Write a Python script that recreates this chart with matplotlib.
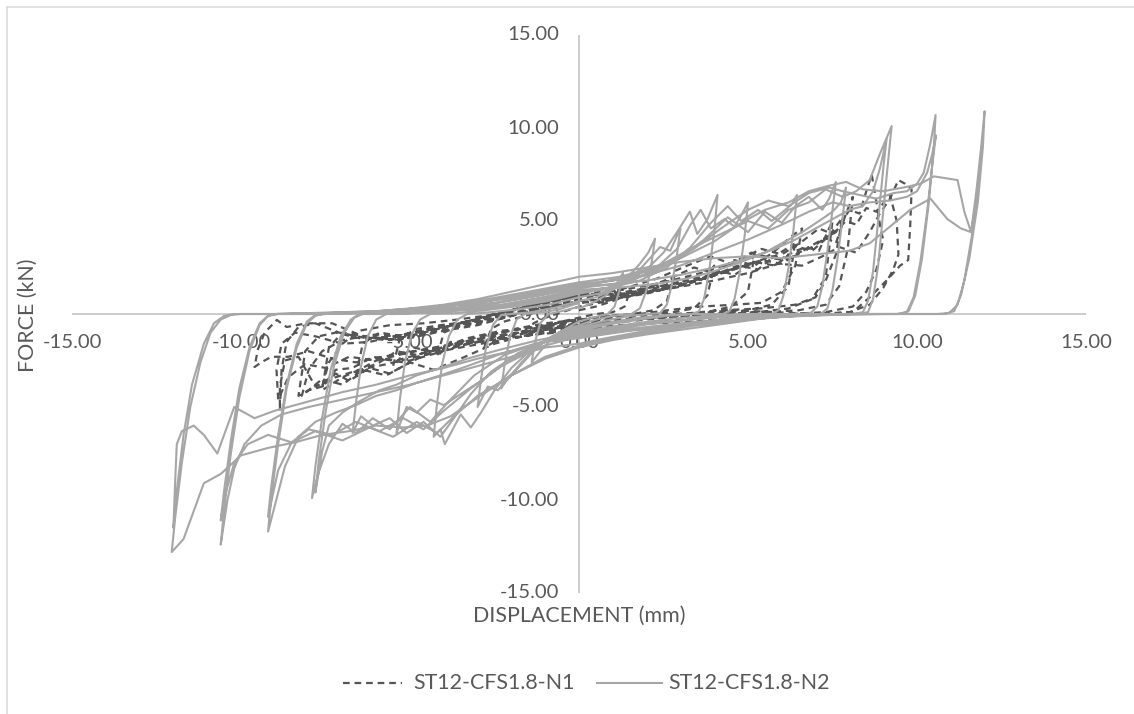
import matplotlib
matplotlib.use('Agg')
import matplotlib.pyplot as plt
from matplotlib.lines import Line2D
from matplotlib.transforms import ScaledTranslation

# ST12-CFS1.8-N1 hysteresis loops: (displacement mm, force kN)
n1_loop_01 = [(0.0, 0.2), (0.5, 0.4), (1.0, 0.7), (1.3, 0.9), (1.5, 1.2), (1.35, 0.4), (1.0, 0.1), (0.5, 0.0),
              (0.0, -0.2), (-0.5, -0.4), (-1.0, -0.7), (-1.3, -0.9), (-1.5, -1.2), (-1.35, -0.5), (-1.0, -0.2),
              (-0.5, 0.1), (0.0, 0.4)]
n1_loop_02 = [(0.0, 0.4), (0.6, 0.6), (1.2, 0.9), (1.8, 1.2), (2.2, 1.6), (2.5, 1.4), (2.8, 2.0), (2.6, 0.7),
              (2.2, 0.2), (1.6, 0.0), (0.9, -0.1), (0.0, -0.3), (-0.7, -0.5), (-1.4, -0.8), (-2.0, -1.1),
              (-2.4, -1.4), (-2.8, -1.8), (-2.6, -0.8), (-2.2, -0.4), (-1.6, -0.1), (-0.9, 0.3), (0.0, 0.6)]
n1_loop_03 = [(0.0, 0.6), (0.8, 0.7), (1.6, 1.0), (2.3, 1.3), (2.9, 1.7), (3.3, 2.0), (3.7, 1.8), (4.0, 2.6),
              (3.8, 1.0), (3.4, 0.3), (2.8, 0.1), (2.0, 0.0), (1.0, -0.1), (0.0, -0.3), (-1.0, -0.5), (-1.9, -0.8),
              (-2.7, -1.2), (-3.3, -1.6), (-3.8, -1.5), (-4.2, -2.3), (-4.0, -1.0), (-3.5, -0.6), (-2.9, -0.4),
              (-2.1, -0.1), (-1.1, 0.3), (0.0, 0.7)]
n1_loop_04 = [(0.0, 0.7), (1.0, 0.8), (2.0, 1.1), (2.9, 1.5), (3.6, 1.9), (4.2, 2.3), (4.6, 2.1), (5.0, 2.6),
              (5.2, 3.2), (5.0, 1.2), (4.5, 0.4), (3.8, 0.1), (2.9, 0.0), (1.9, -0.1), (0.9, -0.2), (0.0, -0.4),
              (-1.0, -0.6), (-2.0, -0.9), (-2.9, -1.2), (-3.7, -1.6), (-4.4, -2.0), (-4.9, -1.8), (-5.2, -2.2),
              (-5.5, -2.8), (-5.3, -1.3), (-4.8, -0.8), (-4.1, -0.6), (-3.2, -0.4), (-2.2, -0.1), (-1.1, 0.3),
              (0.0, 0.8)]
n1_loop_05 = [(0.0, 0.8), (1.1, 0.9), (2.2, 1.2), (3.2, 1.6), (4.0, 2.1), (4.7, 2.6), (5.3, 2.4), (5.7, 3.0),
              (6.1, 2.9), (6.4, 3.9), (6.2, 1.5), (5.7, 0.5), (5.0, 0.2), (4.0, 0.0), (3.0, -0.1), (2.0, -0.2),
              (1.0, -0.3), (0.0, -0.5), (-1.1, -0.8), (-2.2, -1.1), (-3.2, -1.4), (-4.1, -1.8), (-4.8, -2.2),
              (-5.4, -2.0), (-5.9, -2.6), (-6.3, -2.9), (-6.6, -3.4), (-6.4, -1.6), (-5.9, -1.0), (-5.2, -1.2),
              (-4.3, -0.8), (-3.3, -0.5), (-2.2, -0.1), (-1.1, 0.4), (0.0, 0.9)]
n1_loop_06 = [(0.0, 0.9), (1.2, 1.0), (2.4, 1.3), (3.5, 1.8), (4.4, 2.3), (5.2, 2.8), (5.8, 2.6), (6.3, 3.3),
              (6.7, 3.6), (7.1, 3.4), (7.5, 5.0), (7.3, 2.0), (6.9, 0.8), (6.2, 0.3), (5.3, 0.1), (4.2, 0.0),
              (3.0, -0.1), (1.8, -0.3), (0.6, -0.5), (0.0, -0.6), (-1.2, -0.9), (-2.4, -1.3), (-3.5, -1.7),
              (-4.4, -2.2), (-5.2, -2.6), (-5.9, -2.4), (-6.5, -3.0), (-7.0, -3.4), (-7.6, -4.1), (-7.4, -1.8),
              (-7.0, -1.0), (-6.3, -1.2), (-5.4, -1.4), (-4.4, -0.9), (-3.3, -0.4), (-2.2, 0.1), (-1.1, 0.6),
              (0.0, 1.0)]
n1_loop_07 = [(0.0, 1.0), (1.3, 1.1), (2.6, 1.5), (3.7, 1.9), (4.6, 2.4), (5.4, 2.9), (6.0, 2.7), (6.5, 3.3),
              (6.9, 3.6), (7.3, 4.1), (7.6, 3.8), (7.9, 5.4), (8.1, 6.3), (7.95, 3.5), (7.7, 1.5), (7.3, 0.5),
              (6.5, 0.2), (5.5, 0.1), (4.4, 0.0), (3.2, -0.1), (2.0, -0.3), (0.8, -0.5), (0.0, -0.6), (-1.3, -0.9),
              (-2.5, -1.3), (-3.6, -1.7), (-4.6, -2.1), (-5.4, -2.5), (-6.1, -2.3), (-6.7, -2.9), (-7.2, -3.0),
              (-7.6, -3.9), (-8.0, -4.1), (-8.3, -4.4), (-8.1, -2.0), (-7.7, -1.2), (-7.2, -1.0), (-6.5, -1.3),
              (-5.6, -1.4), (-4.6, -1.0), (-3.5, -0.5), (-2.3, 0.1), (-1.1, 0.6), (0.0, 1.0)]
n1_loop_08 = [(0.0, 1.0), (1.4, 1.2), (2.7, 1.6), (3.9, 2.1), (4.9, 2.6), (5.7, 3.1), (6.3, 3.0), (6.8, 3.6),
              (7.2, 4.0), (7.6, 4.4), (8.0, 5.6), (8.3, 5.4), (8.5, 6.6), (8.66, 7.5), (8.8, 6.0), (8.93, 4.5),
              (9.0, 4.0), (8.8, 2.4), (8.5, 1.2), (8.1, 0.4), (7.3, 0.1), (6.2, 0.0), (5.0, -0.1), (3.8, -0.2),
              (2.5, -0.4), (1.2, -0.6), (0.0, -0.8), (-1.3, -1.1), (-2.6, -1.5), (-3.8, -1.9), (-4.8, -2.3),
              (-5.7, -2.7), (-6.5, -3.0), (-7.2, -3.4), (-7.8, -3.9), (-8.3, -2.3), (-8.7, -2.5), (-8.85, -3.9),
              (-8.85, -5.2), (-8.8, -3.0), (-8.65, -1.5), (-8.3, -0.7), (-7.8, -0.5), (-7.1, -1.0), (-6.3, -1.3),
              (-5.4, -1.2), (-4.4, -0.8), (-3.3, -0.4), (-2.2, 0.1), (-1.1, 0.6), (0.0, 1.0)]
n1_loop_09 = [(0.0, 1.0), (1.4, 1.1), (2.8, 1.4), (4.0, 1.8), (5.0, 2.2), (5.9, 2.7), (6.6, 2.6), (7.2, 3.1),
              (7.7, 3.6), (8.2, 3.3), (8.6, 4.4), (8.9, 5.4), (9.2, 6.2), (9.45, 7.2), (9.65, 7.0), (9.84, 6.7),
              (9.8, 4.8), (9.74, 2.9), (9.5, 2.6), (9.1, 1.8), (8.6, 0.9), (8.1, 0.1), (7.2, 0.0), (6.0, -0.1),
              (4.8, -0.2), (3.5, -0.4), (2.2, -0.5), (1.0, -0.7), (0.0, -0.9), (-1.3, -1.1), (-2.6, -1.4),
              (-3.8, -1.7), (-4.9, -2.0), (-5.8, -2.3), (-6.6, -2.6), (-7.3, -2.4), (-8.0, -2.0), (-8.6, -2.3),
              (-9.1, -2.3), (-9.4, -2.6), (-9.6, -2.85), (-9.5, -1.9), (-9.3, -1.0), (-8.94, -0.32), (-8.65, -0.7),
              (-8.06, -0.5), (-7.3, -0.5), (-6.4, -1.2), (-5.4, -1.4), (-4.4, -1.0), (-3.3, -0.6), (-2.2, -0.2),
              (-1.1, 0.3), (0.0, 0.6)]
n1_loop_10 = [(0.0, 0.6), (1.0, 0.9), (2.0, 1.4), (2.8, 2.0), (3.4, 2.5), (4.0, 2.2), (4.6, 2.9), (5.2, 2.6),
              (5.8, 3.4), (6.3, 4.2), (6.6, 4.6), (6.4, 2.6), (6.0, 1.2), (5.4, 0.6), (4.6, 0.5), (3.6, 0.4),
              (2.6, 0.2), (1.4, -0.1), (0.0, -0.5), (-1.2, -0.7), (-2.3, -0.9), (-3.3, -1.3), (-4.2, -1.9),
              (-5.0, -2.6), (-5.6, -3.2), (-6.2, -2.9), (-6.8, -3.6), (-7.2, -3.2), (-7.6, -3.9), (-7.4, -2.6),
              (-7.0, -1.6), (-6.5, -0.9), (-5.6, -0.6), (-4.6, -0.5), (-3.6, -0.3), (-2.4, 0.0), (-1.2, 0.5),
              (0.0, 0.9)]
n1_loop_11 = [(0.0, 0.9), (1.2, 1.3), (2.3, 1.9), (3.2, 2.6), (3.9, 3.1), (4.5, 2.7), (5.1, 3.3), (5.7, 3.0),
              (6.3, 3.7), (6.9, 3.4), (7.4, 4.2), (7.8, 5.2), (7.6, 3.2), (7.3, 1.8), (7.0, 0.9), (6.4, 0.5),
              (5.4, 0.3), (4.2, 0.2), (3.0, 0.0), (1.6, -0.3), (0.0, -0.7), (-1.3, -1.0), (-2.5, -1.6),
              (-3.5, -2.4), (-4.3, -3.0), (-5.0, -2.6), (-5.7, -3.3), (-6.4, -3.0), (-7.0, -3.8), (-7.6, -3.5),
              (-8.2, -4.4), (-8.0, -3.0), (-7.6, -2.0), (-7.0, -1.4), (-6.0, -1.1), (-5.0, -1.3), (-4.0, -0.9),
              (-3.0, -0.6), (-2.0, -0.1), (-1.0, 0.5), (0.0, 1.1)]
n1_loop_12 = [(0.0, 1.1), (1.3, 1.3), (2.5, 1.7), (3.6, 2.2), (4.6, 2.8), (5.4, 3.5), (6.0, 3.2), (6.6, 3.9),
              (7.1, 4.6), (7.5, 4.3), (7.9, 5.0), (8.2, 4.8), (8.5, 5.7), (8.8, 5.5), (9.2, 6.4), (9.4, 5.0),
              (9.45, 3.2), (9.3, 2.4), (9.0, 1.4), (8.6, 0.5), (8.0, 0.1), (7.0, 0.0), (5.8, 0.1), (4.6, 0.2),
              (3.2, 0.0), (1.6, -0.3), (0.0, -0.6), (-1.4, -0.9), (-2.8, -1.3), (-4.0, -1.7), (-5.1, -2.1),
              (-6.0, -2.5), (-6.8, -2.3), (-7.5, -2.9), (-8.1, -2.7), (-8.6, -3.4), (-8.9, -4.6), (-8.95, -3.0),
              (-8.8, -1.6), (-8.4, -1.0), (-7.8, -1.2), (-7.0, -1.6), (-6.2, -1.5), (-5.2, -1.1), (-4.2, -0.7),
              (-3.0, -0.3), (-1.6, 0.2), (0.0, 0.7)]

# ST12-CFS1.8-N2 hysteresis loops
n2_loop_01 = [(0.0, 0.3), (0.4, 0.6), (0.8, 1.0), (1.1, 1.6), (1.3, 2.2), (1.2, 1.3), (1.05, 0.4), (0.85, 0.0),
              (0.4, -0.2), (0.0, -0.4), (-0.4, -0.8), (-0.8, -1.3), (-1.1, -1.9), (-1.4, -2.6), (-1.3, -1.5),
              (-1.15, -0.5), (-0.9, 0.0), (-0.4, 0.2), (0.0, 0.4)]
n2_loop_02 = [(0.0, 0.7), (0.5, 0.9), (1.0, 1.3), (1.4, 1.9), (1.8, 2.7), (2.05, 3.3), (2.25, 4.05), (2.15, 2.8),
              (2.0, 1.3), (1.8, 0.3), (1.55, 0.0), (1.0, -0.1), (0.5, -0.3), (0.0, -0.6), (-0.5, -0.9), (-1.0, -1.4),
              (-1.4, -2.1), (-1.8, -2.9), (-2.1, -3.4), (-2.3, -4.0), (-2.2, -2.7), (-2.05, -1.3), (-1.85, -0.3),
              (-1.6, 0.0), (-1.0, 0.1), (-0.5, 0.3), (0.0, 0.6)]
n2_loop_03 = [(0.0, 0.9), (0.6, 1.1), (1.2, 1.5), (1.7, 2.2), (2.1, 3.0), (2.4, 3.6), (2.7, 3.4), (3.0, 4.6),
              (2.9, 3.2), (2.75, 1.6), (2.6, 0.5), (2.4, 0.05), (2.1, 0.0), (1.5, -0.1), (0.8, -0.35), (0.0, -0.7),
              (-0.6, -1.1), (-1.2, -1.7), (-1.7, -2.6), (-2.1, -3.5), (-2.4, -4.1), (-2.7, -3.9), (-3.0, -5.0),
              (-2.9, -3.5), (-2.75, -1.8), (-2.55, -0.6), (-2.3, -0.05), (-2.0, 0.0), (-1.4, 0.1), (-0.7, 0.35),
              (0.0, 0.7)]
n2_loop_04 = [(0.0, 1.1), (0.7, 1.3), (1.4, 1.7), (2.0, 2.4), (2.5, 3.3), (2.9, 4.4), (3.28, 5.5), (3.5, 4.3),
              (3.8, 5.1), (4.1, 6.4), (4.0, 4.4), (3.85, 2.3), (3.7, 0.8), (3.55, 0.15), (3.35, 0.0), (2.6, -0.05),
              (1.8, -0.2), (0.9, -0.45), (0.0, -0.8), (-0.7, -1.2), (-1.4, -1.9), (-2.0, -2.9), (-2.5, -4.1),
              (-2.9, -5.3), (-3.2, -6.1), (-3.5, -5.4), (-3.97, -7.0), (-4.1, -6.2), (-4.3, -6.6), (-4.2, -4.8),
              (-4.05, -2.7), (-3.85, -1.2), (-3.6, -0.3), (-3.3, 0.0), (-2.6, 0.1), (-1.8, 0.25), (-0.9, 0.5),
              (0.0, 0.9)]
n2_loop_05 = [(0.0, 1.2), (0.8, 1.4), (1.6, 1.8), (2.3, 2.5), (2.9, 3.5), (3.3, 4.8), (3.6, 5.6), (3.9, 4.6),
              (4.3, 5.1), (4.6, 4.7), (4.8, 5.3), (5.0, 6.0), (4.9, 4.2), (4.75, 2.2), (4.6, 0.8), (4.45, 0.15),
              (4.25, 0.0), (3.4, 0.0), (2.6, -0.1), (1.8, -0.3), (0.9, -0.55), (0.0, -0.9), (-0.8, -1.3),
              (-1.6, -2.0), (-2.3, -2.8), (-2.9, -3.6), (-3.5, -4.3), (-4.0, -4.9), (-4.4, -4.6), (-4.8, -5.3),
              (-5.1, -5.0), (-5.4, -6.4), (-5.3, -4.6), (-5.15, -2.6), (-4.95, -1.1), (-4.7, -0.3),
              (-4.4, 0.0), (-3.6, 0.05), (-2.8, 0.2), (-1.9, 0.4), (-0.9, 0.7), (0.0, 1.1)]
n2_loop_06 = [(0.0, 1.2), (0.9, 1.4), (1.8, 1.8), (2.6, 2.5), (3.3, 3.6), (3.9, 4.9), (4.4, 5.8), (4.8, 5.0),
              (5.3, 5.6), (5.7, 5.0), (6.1, 5.6), (6.3, 5.9), (6.45, 6.4), (6.35, 4.6), (6.2, 2.5), (6.05, 1.0),
              (5.9, 0.2), (5.7, 0.0), (4.8, 0.0), (3.8, -0.1), (2.8, -0.25), (1.9, -0.45), (0.9, -0.7), (0.0, -1.0),
              (-0.9, -1.4), (-1.8, -2.1), (-2.6, -3.1), (-3.2, -4.3), (-3.7, -5.6), (-4.1, -6.6), (-4.6, -5.8),
              (-5.1, -6.4), (-5.6, -5.6), (-6.1, -6.0), (-6.45, -5.5), (-6.7, -6.4), (-6.6, -4.8), (-6.45, -2.8),
              (-6.25, -1.2), (-6.0, -0.3), (-5.7, 0.0), (-4.8, 0.05), (-3.8, 0.15), (-2.8, 0.3), (-1.9, 0.5),
              (-0.9, 0.8), (0.0, 1.2)]
n2_loop_07 = [(0.0, 1.4), (1.0, 1.6), (2.0, 2.1), (2.9, 2.9), (3.7, 4.0), (4.4, 5.2), (5.0, 4.4), (5.5, 5.5),
              (6.0, 4.9), (6.4, 5.8), (6.8, 6.3), (7.2, 5.6), (7.4, 6.2), (7.6, 7.1), (7.5, 5.6), (7.35, 3.4),
              (7.2, 1.5), (7.05, 0.4), (6.85, 0.05), (6.6, 0.0), (5.5, 0.0), (4.4, -0.1), (3.3, -0.3), (2.2, -0.5),
              (1.1, -0.8), (0.0, -1.1), (-1.1, -1.5), (-2.2, -2.2), (-3.1, -3.3), (-3.8, -4.6), (-4.4, -5.8),
              (-5.0, -5.0), (-5.6, -6.2), (-6.1, -5.6), (-6.6, -6.4), (-7.0, -5.9), (-7.4, -7.0), (-7.7, -8.5),
              (-7.9, -9.9), (-7.8, -8.2), (-7.6, -5.6), (-7.35, -3.0), (-7.05, -1.2), (-6.75, -0.3), (-6.5, 0.0),
              (-5.5, 0.0), (-4.5, 0.1), (-3.4, 0.3), (-2.3, 0.5), (-1.1, 0.9), (0.0, 1.3)]
n2_loop_08 = [(0.0, 1.3), (1.1, 1.4), (2.2, 1.6), (3.2, 1.9), (4.0, 2.3), (4.8, 2.8), (5.5, 3.3), (6.1, 3.9),
              (6.6, 4.4), (7.1, 5.0), (7.5, 5.5), (7.75, 6.0), (7.9, 6.8), (7.8, 5.2), (7.65, 3.0), (7.5, 1.3),
              (7.35, 0.3), (7.15, 0.0), (6.0, 0.0), (4.8, -0.1), (3.6, -0.25), (2.4, -0.45), (1.2, -0.7),
              (0.0, -1.0), (-1.2, -1.4), (-2.3, -1.9), (-3.3, -2.4), (-4.1, -2.9), (-4.8, -3.3), (-5.4, -3.8),
              (-5.9, -4.1), (-6.5, -4.7), (-7.0, -5.3), (-7.4, -6.0), (-7.6, -7.4), (-7.8, -9.6), (-7.7, -7.9),
              (-7.5, -5.3), (-7.25, -2.8), (-6.95, -1.0), (-6.65, -0.2), (-6.4, 0.0), (-5.4, 0.0), (-4.4, 0.1),
              (-3.3, 0.25), (-2.2, 0.45), (-1.1, 0.8), (0.0, 1.2)]
n2_loop_09 = [(0.0, 1.5), (1.2, 1.9), (2.4, 2.6), (3.4, 3.6), (4.2, 4.3), (5.0, 5.0), (5.6, 4.6), (6.2, 5.6),
              (6.8, 6.0), (7.3, 6.7), (7.8, 6.3), (8.2, 6.6), (8.6, 7.2), (8.9, 8.6), (9.25, 10.1), (9.15, 8.3),
              (9.0, 5.5), (8.85, 2.6), (8.7, 0.8), (8.55, 0.1), (8.3, 0.0), (7.0, 0.0), (5.6, -0.1), (4.3, -0.3),
              (3.0, -0.5), (1.5, -0.8), (0.0, -1.1), (-1.3, -1.6), (-2.4, -2.2), (-3.3, -2.8), (-4.1, -3.3),
              (-4.8, -3.7), (-5.4, -4.1), (-6.0, -4.4), (-6.6, -4.9), (-7.2, -5.3), (-7.8, -5.8), (-8.3, -6.6),
              (-8.7, -8.2), (-9.2, -11.7), (-9.1, -9.8), (-8.9, -7.0), (-8.65, -4.0), (-8.35, -1.8), (-8.05, -0.5),
              (-7.8, -0.1), (-7.6, 0.0), (-6.5, 0.05), (-5.2, 0.15), (-3.8, 0.3), (-2.5, 0.6), (-1.2, 1.0),
              (0.0, 1.5)]
n2_loop_10 = [(0.0, 1.5), (1.0, 1.6), (2.0, 1.8), (3.0, 2.1), (4.0, 2.5), (5.0, 3.0), (5.8, 3.5), (6.4, 4.0),
              (7.0, 4.6), (7.6, 5.2), (8.0, 5.6), (8.4, 5.8), (8.7, 6.6), (8.9, 7.8), (9.1, 9.4), (9.0, 7.8),
              (8.85, 5.0), (8.7, 2.3), (8.55, 0.7), (8.4, 0.1), (8.1, 0.0), (6.8, 0.0), (5.5, -0.1), (4.2, -0.3),
              (2.8, -0.6), (1.4, -0.9), (0.0, -1.2), (-1.2, -1.8), (-2.3, -2.8), (-3.2, -4.0), (-4.0, -5.2),
              (-4.6, -6.2), (-5.2, -5.6), (-5.9, -6.3), (-6.6, -5.8), (-7.3, -6.5), (-8.0, -6.2), (-8.5, -6.9),
              (-8.9, -8.4), (-9.2, -10.9), (-9.1, -9.2), (-8.9, -6.5), (-8.65, -3.8), (-8.35, -1.6), (-8.05, -0.4),
              (-7.8, -0.05), (-7.5, 0.0), (-6.3, 0.05), (-5.0, 0.15), (-3.7, 0.3), (-2.4, 0.6), (-1.2, 1.0),
              (0.0, 1.4)]
n2_loop_11 = [(0.0, 1.7), (1.2, 2.0), (2.4, 2.6), (3.4, 3.5), (4.2, 4.6), (5.0, 5.6), (5.6, 6.1), (6.2, 5.8),
              (6.8, 6.5), (7.4, 6.8), (7.8, 6.6), (8.3, 6.4), (8.8, 6.2), (9.3, 6.5), (9.7, 6.6), (10.0, 7.0),
              (10.2, 7.6), (10.4, 9.2), (10.55, 10.7), (10.5, 9.0), (10.35, 6.0), (10.15, 3.0), (9.95, 1.0),
              (9.75, 0.15), (9.5, 0.0), (8.0, 0.0), (6.5, -0.05), (5.0, -0.25), (3.5, -0.5), (2.0, -0.9),
              (0.8, -1.3), (0.0, -1.6), (-1.0, -1.8), (-2.0, -2.3), (-3.0, -2.8), (-4.0, -3.3), (-5.0, -3.8),
              (-6.0, -4.2), (-7.0, -4.6), (-8.0, -5.0), (-8.8, -5.4), (-9.4, -6.0), (-9.9, -7.0), (-10.2, -8.3),
              (-10.4, -10.0), (-10.6, -12.4), (-10.5, -10.5), (-10.3, -7.5), (-10.05, -4.5), (-9.75, -2.0),
              (-9.45, -0.6), (-9.2, -0.1), (-8.9, 0.0), (-7.5, 0.0), (-6.0, 0.1), (-4.5, 0.3), (-3.0, 0.6),
              (-1.5, 1.1), (0.0, 1.6)]
n2_loop_12 = [(0.0, 1.6), (1.0, 1.8), (2.0, 2.1), (3.0, 2.6), (4.0, 3.3), (5.0, 4.0), (6.0, 4.8), (6.8, 5.5),
              (7.5, 6.0), (8.0, 5.8), (8.6, 6.0), (9.2, 6.1), (9.7, 6.3), (10.0, 6.6), (10.3, 7.6), (10.45, 8.6),
              (10.56, 9.6), (10.45, 8.0), (10.3, 5.5), (10.1, 2.8), (9.9, 0.9), (9.7, 0.1), (9.4, 0.0), (8.0, 0.0),
              (6.5, -0.1), (5.0, -0.3), (3.5, -0.6), (2.0, -1.0), (0.8, -1.4), (0.0, -1.7), (-1.0, -2.3),
              (-2.0, -3.3), (-3.0, -4.4), (-3.7, -5.5), (-4.2, -6.4), (-4.8, -5.8), (-5.5, -6.6), (-6.2, -6.1),
              (-7.0, -6.8), (-7.8, -6.3), (-8.5, -6.9), (-9.2, -6.5), (-9.8, -7.0), (-10.2, -8.0), (-10.45, -9.6),
              (-10.6, -11.1), (-10.5, -9.5), (-10.3, -6.8), (-10.05, -4.0), (-9.75, -1.8), (-9.45, -0.5),
              (-9.2, -0.1), (-9.0, 0.0), (-7.5, 0.0), (-6.0, 0.1), (-4.5, 0.3), (-3.0, 0.6), (-1.5, 1.0), (0.0, 1.5)]
n2_loop_13 = [(0.0, 1.5), (1.0, 1.8), (2.0, 2.3), (3.0, 3.0), (4.0, 3.9), (4.8, 4.9), (5.5, 5.6), (6.2, 6.0),
              (6.8, 6.6), (7.4, 6.9), (7.9, 7.1), (8.4, 6.7), (9.0, 6.6), (9.6, 6.8), (10.1, 7.0), (10.5, 7.4),
              (11.2, 7.2), (11.4, 5.5), (11.6, 4.4), (11.75, 6.5), (11.9, 9.0), (12.0, 10.9), (11.95, 9.0),
              (11.8, 6.0), (11.55, 3.0), (11.3, 1.0), (11.1, 0.15), (10.8, 0.0), (9.5, 0.0), (8.0, 0.0),
              (6.8, -0.05), (5.6, -0.2), (4.4, -0.5), (3.2, -0.8), (2.0, -1.1), (1.0, -1.4), (0.0, -1.8),
              (-1.0, -2.4), (-2.0, -3.3), (-3.0, -4.5), (-3.8, -5.5), (-4.5, -6.0), (-5.2, -6.1), (-6.0, -6.0),
              (-6.8, -6.3), (-7.6, -6.5), (-8.4, -6.9), (-9.2, -7.2), (-10.0, -7.6), (-10.6, -8.6), (-11.1, -9.1),
              (-11.4, -10.6), (-11.7, -12.1), (-12.05, -12.8), (-11.95, -11.0), (-11.75, -8.0), (-11.5, -5.0),
              (-11.2, -2.6), (-10.9, -1.0), (-10.6, -0.3), (-10.3, -0.05), (-10.0, 0.0), (-9.0, 0.0), (-8.0, 0.05),
              (-7.0, 0.1), (-6.0, 0.15), (-5.0, 0.3), (-4.0, 0.5), (-3.0, 0.8), (-2.0, 1.2), (-1.0, 1.6), (0.0, 2.0)]
n2_loop_14 = [(0.0, 2.0), (1.0, 2.2), (2.0, 2.5), (3.0, 2.8), (4.0, 3.0), (5.0, 3.1), (6.0, 3.0), (7.0, 3.2),
              (8.0, 3.4), (8.6, 3.8), (9.2, 4.7), (9.8, 5.6), (10.4, 6.2), (10.9, 5.1), (11.3, 4.6), (11.6, 4.4),
              (11.75, 6.0), (11.95, 9.5), (11.85, 7.5), (11.65, 4.5), (11.4, 1.8), (11.2, 0.5), (10.95, 0.05),
              (10.6, 0.0), (9.0, 0.0), (7.5, -0.05), (6.0, -0.15), (4.5, -0.35), (3.0, -0.6), (1.5, -0.9),
              (0.0, -1.3), (-1.0, -1.5), (-2.0, -2.0), (-3.0, -2.4), (-4.0, -2.9), (-5.0, -3.3), (-6.0, -3.8),
              (-7.0, -4.2), (-8.0, -4.7), (-9.0, -5.2), (-9.6, -5.6), (-10.2, -5.0), (-10.7, -7.5), (-11.1, -6.5),
              (-11.4, -6.0), (-11.75, -6.3), (-11.9, -7.0), (-11.95, -9.1), (-12.0, -11.5), (-11.9, -9.5),
              (-11.7, -6.5), (-11.45, -3.8), (-11.1, -1.6), (-10.8, -0.5), (-10.5, -0.1), (-10.2, 0.0), (-9.0, 0.0),
              (-7.5, 0.05), (-6.0, 0.15), (-4.5, 0.35), (-3.0, 0.7), (-1.5, 1.2), (0.0, 1.7)]

n1_loops = [n1_loop_01, n1_loop_02, n1_loop_03, n1_loop_04, n1_loop_10, n1_loop_05, n1_loop_06, n1_loop_11,
            n1_loop_07, n1_loop_08, n1_loop_12, n1_loop_09]
n2_loops = [n2_loop_01, n2_loop_02, n2_loop_03, n2_loop_04, n2_loop_05, n2_loop_06, n2_loop_07, n2_loop_08,
            n2_loop_09, n2_loop_10, n2_loop_11, n2_loop_12, n2_loop_13, n2_loop_14]

series_names = ['ST12-CFS1.8-N1', 'ST12-CFS1.8-N2']
tick_values = [-15, -10, -5, 0, 5, 10, 15]


def unpack(loops):
    pts = [p for loop in loops for p in loop]
    return [p[0] for p in pts], [p[1] for p in pts]


n1_disp, n1_force = unpack(n1_loops)
n2_disp, n2_force = unpack(n2_loops)

W, H = 1134, 714
TXT = '#595959'
AXIS = '#BFBFBF'
N1_COLOR = '#555555'
N2_COLOR = '#A6A6A6'
DASH = (0, (3, 2.2))
plt.rcParams['font.family'] = ['Lato', 'DejaVu Sans']

fig = plt.figure(figsize=(W / 100, H / 100), dpi=100)
ax = fig.add_axes([72 / W, 1 - 593 / H, (1086 - 72) / W, (593 - 35) / H])
ax.set_xlim(-15, 15)
ax.set_ylim(-15, 15)
ax.axis('off')

# axes crossing at the origin
ax.axhline(0, color=AXIS, lw=1.1, zorder=1)
ax.axvline(0, color=AXIS, lw=1.1, zorder=1)

fs = 14.6
down = ax.transData + ScaledTranslation(0, -28 / 100, fig.dpi_scale_trans)
left = ax.transData + ScaledTranslation(-20 / 100, 0, fig.dpi_scale_trans)
for v in tick_values:
    ax.text(v, 0, f'{v:.2f}', transform=down, ha='center', va='center', fontsize=fs, color=TXT, zorder=1)
    ax.text(0, v, f'{v:.2f}', transform=left, ha='right', va='center', fontsize=fs, color=TXT, zorder=1)

ax.plot(n1_disp, n1_force, color=N1_COLOR, lw=1.6, ls=DASH, zorder=2)
ax.plot(n2_disp, n2_force, color=N2_COLOR, lw=1.5, zorder=3)

fig.text(579 / W, 1 - 616 / H, 'DISPLACEMENT (mm)', ha='center', va='center', fontsize=15.4, color=TXT)
fig.text(28 / W, 1 - 315 / H, 'FORCE (kN)', ha='center', va='center', rotation=90, fontsize=15.4, color=TXT)

# legend
ly = 1 - 683 / H
fig.add_artist(Line2D([343 / W, 402 / W], [ly, ly], color=N1_COLOR, lw=1.6, ls=DASH))
fig.text(413 / W, ly, series_names[0], ha='left', va='center', fontsize=15.4, color=TXT)
fig.add_artist(Line2D([597 / W, 662 / W], [ly, ly], color=N2_COLOR, lw=1.5))
fig.text(668 / W, ly, series_names[1], ha='left', va='center', fontsize=15.4, color=TXT)

# chart area border
fig.add_artist(Line2D([7 / W, 7 / W], [0, 1 - 7 / H], color='#D9D9D9', lw=1.1))
fig.add_artist(Line2D([7 / W, 1], [1 - 7 / H, 1 - 7 / H], color='#D9D9D9', lw=1.1))

fig.savefig('out.png', dpi=100)
